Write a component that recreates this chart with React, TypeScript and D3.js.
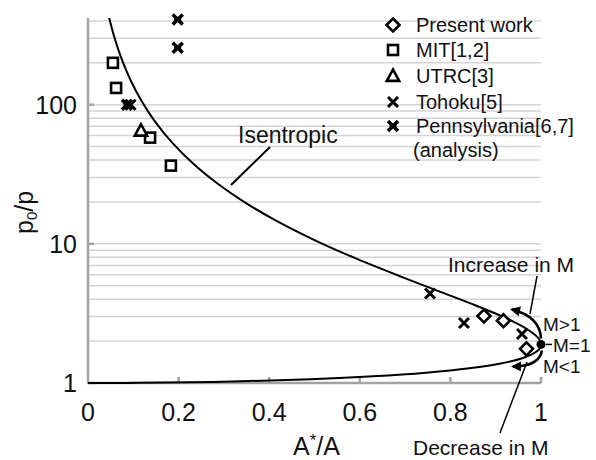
import React from "react";
import * as d3 from "d3";

// Isentropic relation (gamma = 1.4): [A*/A, p0/p]
const isentropicSubsonic: [number, number][] = [
  [0, 1], [0.08627, 1.00175], [0.17177, 1.00702], [0.33744, 1.02828], [0.49138, 1.06443],
  [0.62888, 1.11655], [0.74636, 1.18621], [0.84161, 1.2755], [0.91377, 1.3871],
  [0.96318, 1.52434], [0.99121, 1.6913], [0.99786, 1.78737], [1, 1.8929],
];
const isentropicSupersonic: [number, number][] = [
  [1, 1.8929], [0.99798, 2.00845], [0.99214, 2.1353], [0.97046, 2.4248], [0.93782, 2.7707],
  [0.89692, 3.1826], [0.85022, 3.671], [0.79985, 4.2504], [0.69494, 5.7458], [0.59259, 7.8244],
  [0.49876, 10.693], [0.41613, 14.62], [0.34531, 19.954], [0.2857, 27.138], [0.23615, 36.733],
  [0.18625, 53.19], [0.14728, 76.27], [0.11694, 108.2], [0.09329, 151.84], [0.07484, 210.7],
  [0.06038, 289.5], [0.049, 393.2], [0.04, 529.1],
];

const presentX = [0.874, 0.917, 0.968];
const presentY = [3.03, 2.8, 1.76];
const mitX = [0.055, 0.062, 0.137, 0.183];
const mitY = [200, 132, 58, 36.5];
const utrcX = [0.117];
const utrcY = [65];
const tohokuX = [0.755, 0.83, 0.958, 0.094];
const tohokuY = [4.4, 2.7, 2.25, 100];
const pennX = [0.198, 0.198, 0.086];
const pennY = [410, 257, 100];

const xTicks = [0, 0.2, 0.4, 0.6, 0.8, 1];
const xTickLabels = ["0", "0.2", "0.4", "0.6", "0.8", "1"];
const yTicks = [1, 10, 100];
const yTickLabels = ["1", "10", "100"];
const yGrid = [2, 3, 4, 5, 6, 7, 8, 9, 10, 20, 30, 40, 50, 60, 70, 80, 90, 100, 200, 300, 400];

const legendLabels = ["Present work", "MIT[1,2]", "UTRC[3]", "Tohoku[5]", "Pennsylvania[6,7]"];
const legendShapes = ["diamond", "square", "triangle", "cross", "star"];

const FONT = "'Liberation Sans', Arial, sans-serif";

function Marker({ shape, cx, cy }: { shape: string; cx: number; cy: number }) {
  if (shape === "diamond") {
    const r = 6.5;
    return (
      <path d={`M${cx},${cy - r}L${cx + r},${cy}L${cx},${cy + r}L${cx - r},${cy}Z`}
        fill="white" stroke="black" strokeWidth={2.6} />
    );
  }
  if (shape === "square") {
    const r = 5;
    return <rect x={cx - r} y={cy - r} width={2 * r} height={2 * r} fill="white" stroke="black" strokeWidth={2.6} />;
  }
  if (shape === "triangle") {
    const r = 6.5;
    return (
      <path d={`M${cx},${cy - r}L${cx + r * 0.95},${cy + r * 0.75}L${cx - r * 0.95},${cy + r * 0.75}Z`}
        fill="white" stroke="black" strokeWidth={2.6} />
    );
  }
  if (shape === "cross") {
    const r = 5;
    return (
      <path d={`M${cx - r},${cy - r}L${cx + r},${cy + r}M${cx - r},${cy + r}L${cx + r},${cy - r}`}
        stroke="black" strokeWidth={3} />
    );
  }
  const r = 5;
  return (
    <g stroke="black">
      <path d={`M${cx - r},${cy - r}L${cx + r},${cy + r}M${cx - r},${cy + r}L${cx + r},${cy - r}`} strokeWidth={3.6} />
      <path d={`M${cx - 3.5},${cy}L${cx + 3.5},${cy}`} strokeWidth={3} />
    </g>
  );
}

export default function App() {
  const W = 596, H = 460;
  const x = d3.scaleLinear().domain([0, 1]).range([88, 541]);
  const y = d3.scaleLog().domain([1, 420]).range([383, 18]);

  const line = d3
    .line<[number, number]>()
    .x((d) => x(d[0]))
    .y((d) => y(d[1]))
    .curve(d3.curveCatmullRom.alpha(0.5));

  const plotLeft = x(0), plotRight = x(1), plotTop = y(420), plotBottom = y(1);

  const series = [
    { shape: "diamond", xs: presentX, ys: presentY },
    { shape: "square", xs: mitX, ys: mitY },
    { shape: "triangle", xs: utrcX, ys: utrcY },
    { shape: "cross", xs: tohokuX, ys: tohokuY },
    { shape: "star", xs: pennX, ys: pennY },
  ];

  const mx = x(1), my = y(1.8929);

  return (
    <svg width={W} height={H} style={{ position: "absolute", left: 0, top: 0, background: "white" }}
      fontFamily={FONT}>
      <defs>
        <marker id="ah" viewBox="0 0 10 10" refX="8" refY="5" markerWidth="11" markerHeight="10"
          markerUnits="userSpaceOnUse" orient="auto">
          <path d="M0,0L10,5L0,10Z" fill="black" />
        </marker>
        <clipPath id="plotclip">
          <rect x={plotLeft - 2} y={plotTop} width={plotRight - plotLeft + 10} height={plotBottom - plotTop + 4} />
        </clipPath>
      </defs>

      {/* gridlines */}
      {yGrid.map((v) => (
        <line key={v} x1={plotLeft} x2={plotRight} y1={y(v)} y2={y(v)} stroke="#d4d4d8" strokeWidth={1.5} />
      ))}

      {/* axes */}
      <line x1={plotLeft} x2={plotLeft} y1={plotTop} y2={plotBottom} stroke="#a3a3a3" strokeWidth={2.5} />
      <line x1={plotLeft - 1} x2={plotRight} y1={plotBottom} y2={plotBottom} stroke="#a3a3a3" strokeWidth={2.5} />
      {xTicks.slice(1).map((t) => (
        <line key={t} x1={x(t)} x2={x(t)} y1={plotBottom} y2={plotBottom - 6} stroke="#a3a3a3" strokeWidth={2.5} />
      ))}
      {yTicks.map((t) => (
        <line key={t} x1={plotLeft} x2={plotLeft + 6} y1={y(t)} y2={y(t)} stroke="#a3a3a3" strokeWidth={2.5} />
      ))}

      {/* tick labels */}
      {xTicks.map((t, i) => (
        <text key={t} x={x(t)} y={421} fontSize={25} textAnchor="middle" fill="#111">{xTickLabels[i]}</text>
      ))}
      {yTicks.map((t, i) => (
        <text key={t} x={77} y={y(t)} dy="0.36em" fontSize={25} textAnchor="end" fill="#111">{yTickLabels[i]}</text>
      ))}

      {/* axis titles */}
      <text x={293} y={455} fontSize={25} fill="#111">
        A<tspan fontSize={17} dy={-9}>*</tspan><tspan dy={9}>/A</tspan>
      </text>
      <text transform={`translate(33,234) rotate(-90)`} fontSize={25} fill="#111">
        p<tspan fontSize={15} dy={4}>0</tspan><tspan dy={-4}>/p</tspan>
      </text>

      {/* isentropic curve */}
      <g clipPath="url(#plotclip)">
        <path d={line(isentropicSubsonic) ?? ""} fill="none" stroke="black" strokeWidth={2} />
        <path d={line(isentropicSupersonic) ?? ""} fill="none" stroke="black" strokeWidth={2} />
      </g>

      {/* data points */}
      {series.map((s) =>
        s.xs.map((v, i) => <Marker key={s.shape + i} shape={s.shape} cx={x(v)} cy={y(s.ys[i])} />)
      )}

      {/* M = 1 point */}
      <circle cx={mx} cy={my} r={4.5} fill="black" />

      {/* arrows */}
      <path d={`M${mx},${my - 6} Q${mx - 1},${my - 28} ${mx - 29},${my - 35}`} fill="none" stroke="black"
        strokeWidth={2.6} markerEnd="url(#ah)" />
      <path d={`M${mx + 1},${my + 6} Q${mx - 2},${my + 22} ${mx - 28},${my + 22}`} fill="none" stroke="black"
        strokeWidth={2.6} markerEnd="url(#ah)" />

      {/* annotations */}
      <text x={238} y={143} fontSize={23} fill="#111">Isentropic</text>
      <line x1={270} y1={147} x2={231} y2={185} stroke="black" strokeWidth={2} />

      <text x={448} y={272} fontSize={21} fill="#111">Increase in M</text>
      <line x1={537} y1={276} x2={530} y2={314} stroke="black" strokeWidth={1.5} />

      <text x={413} y={455} fontSize={21} fill="#111">Decrease in M</text>
      <line x1={527} y1={362} x2={500} y2={433} stroke="black" strokeWidth={1.5} />

      <text x={543} y={331} fontSize={19} fill="#111">M&gt;1</text>
      <line x1={546} y1={my} x2={552} y2={my} stroke="black" strokeWidth={1.5} />
      <text x={553} y={my + 7.5} fontSize={19} fill="#111">M=1</text>
      <text x={543} y={373} fontSize={19} fill="#111">M&lt;1</text>

      {/* legend */}
      {legendLabels.map((lab, i) => {
        const ly = [25, 50, 76, 102, 126][i];
        return (
          <g key={lab}>
            <Marker shape={legendShapes[i]} cx={393} cy={ly} />
            <text x={416} y={ly} dy="0.35em" fontSize={20} fill="#111">{lab}</text>
          </g>
        );
      })}
      <text x={413} y={150} dy="0.35em" fontSize={20} fill="#111">(analysis)</text>
    </svg>
  );
}
